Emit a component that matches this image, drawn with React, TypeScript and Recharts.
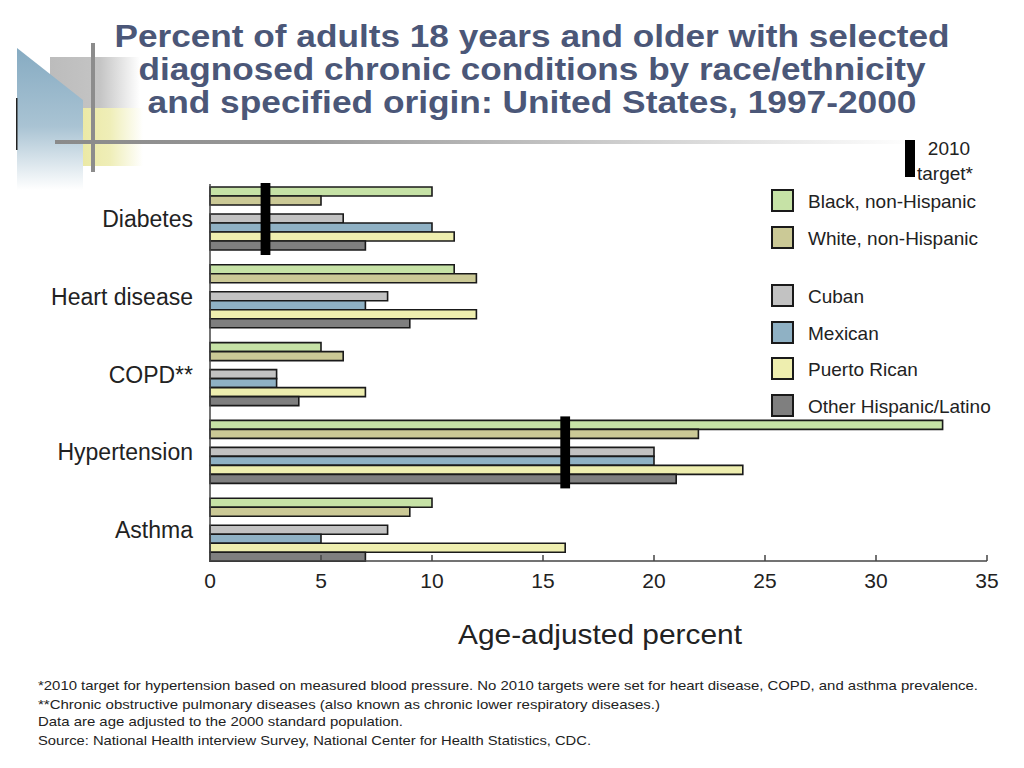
import React from 'react';
import { BarChart, Bar, XAxis, YAxis } from 'recharts';

const categories = ['Diabetes', 'Heart disease', 'COPD**', 'Hypertension', 'Asthma'];
const blackNonHispanic = [10, 11, 5, 33, 10];
const whiteNonHispanic = [5, 12, 6, 22, 9];
const cuban = [6, 8, 3, 20, 8];
const mexican = [10, 7, 3, 20, 5];
const puertoRican = [11, 12, 7, 24, 16];
const otherHispanic = [7, 9, 4, 21, 7];
const target2010 = [2.5, null, null, 16, null];
const xTicks = [0, 5, 10, 15, 20, 25, 30, 35];

const groups = [
  { key: 'black', name: 'Black, non-Hispanic', color: '#c6e2a6', values: blackNonHispanic },
  { key: 'white', name: 'White, non-Hispanic', color: '#cbc996', values: whiteNonHispanic },
  { key: 'cuban', name: 'Cuban', color: '#c2c2c2', values: cuban },
  { key: 'mexican', name: 'Mexican', color: '#8fb1c4', values: mexican },
  { key: 'pr', name: 'Puerto Rican', color: '#eeeeaf', values: puertoRican },
  { key: 'other', name: 'Other Hispanic/Latino', color: '#7f7f7f', values: otherHispanic },
];

// half width of the black target marker, in percent units
const TARGET_HALF = 0.22;

const data = categories.map((name, i) => {
  const row: any = { name };
  groups.forEach((g) => (row[g.key] = g.values[i]));
  const t = target2010[i];
  row.target = t == null ? null : [t - TARGET_HALF, t + TARGET_HALF];
  return row;
});

const FONT = '"Liberation Sans", Arial, sans-serif';
const TITLE = '#4b5778';

function Decoration() {
  return (
    <svg width={1024} height={200} style={{ position: 'absolute', left: 0, top: 0 }}>
      <defs>
        <linearGradient id="grayFade" x1="0" y1="0" x2="1" y2="0">
          <stop offset="0%" stopColor="#bcbcbc" />
          <stop offset="55%" stopColor="#c4c4c4" />
          <stop offset="100%" stopColor="#ffffff" />
        </linearGradient>
        <linearGradient id="yellowFade" x1="0" y1="0" x2="1" y2="0">
          <stop offset="0%" stopColor="#ebe9a6" />
          <stop offset="45%" stopColor="#efeeb8" />
          <stop offset="100%" stopColor="#ffffff" />
        </linearGradient>
        <linearGradient id="blueFade" x1="0" y1="0" x2="0" y2="1">
          <stop offset="0%" stopColor="#86abc2" />
          <stop offset="55%" stopColor="#a9c3d3" />
          <stop offset="100%" stopColor="#ffffff" />
        </linearGradient>
        <linearGradient id="lineFade" x1="0" y1="0" x2="1" y2="0">
          <stop offset="0%" stopColor="#8a8a8a" />
          <stop offset="30%" stopColor="#9a9a9a" />
          <stop offset="100%" stopColor="#ffffff" />
        </linearGradient>
      </defs>
      <rect x={50} y={57} width={90} height={51} fill="url(#grayFade)" />
      <rect x={83} y={108} width={60} height={58} fill="url(#yellowFade)" />
      <polygon points="17,48 83,100 83,190 17,190" fill="url(#blueFade)" />
      <rect x={55} y={140} width={860} height={4} fill="url(#lineFade)" />
      <rect x={91} y={43} width={4} height={129} fill="#8c8c8c" />
      <rect x={16} y={98} width={1.5} height={52} fill="#222" />
    </svg>
  );
}

function Title() {
  const lines = [
    { text: 'Percent of adults 18 years and older with selected', y: 47, w: 835 },
    { text: 'diagnosed chronic conditions by race/ethnicity', y: 80, w: 787 },
    { text: 'and specified origin: United States, 1997-2000', y: 113, w: 769 },
  ];
  return (
    <svg width={1024} height={130} style={{ position: 'absolute', left: 0, top: 0 }}>
      {lines.map((l) => (
        <text
          key={l.y}
          x={532}
          y={l.y}
          textAnchor="middle"
          fontFamily={FONT}
          fontWeight="bold"
          fontSize={32}
          fill={TITLE}
          textLength={l.w}
          lengthAdjust="spacingAndGlyphs"
        >
          {l.text}
        </text>
      ))}
    </svg>
  );
}

function Legend() {
  const ys = [201, 238, 296, 333, 369, 406];
  return (
    <svg width={1024} height={440} style={{ position: 'absolute', left: 0, top: 0 }}>
      <rect x={905} y={140} width={10} height={37} fill="#000" />
      <text x={949} y={155} textAnchor="middle" fontFamily={FONT} fontSize={19} fill="#222">2010</text>
      <text x={917} y={180} fontFamily={FONT} fontSize={19} fill="#222">target*</text>
      {groups.map((g, i) => (
        <g key={g.key}>
          <rect x={772} y={ys[i] - 11} width={21} height={21} fill={g.color} stroke="#1a1a1a" strokeWidth={2} />
          <text x={808} y={ys[i] + 7} fontFamily={FONT} fontSize={19} fill="#222">
            {g.name}
          </text>
        </g>
      ))}
    </svg>
  );
}

function Notes() {
  const notes = [
    { text: '*2010 target for hypertension based on measured blood pressure.  No 2010 targets were set for heart disease, COPD, and asthma prevalence.', y: 690, w: 940 },
    { text: '**Chronic obstructive pulmonary diseases (also known as chronic lower respiratory diseases.)', y: 709, w: 622 },
    { text: 'Data are age adjusted to the 2000 standard population.', y: 726, w: 365 },
    { text: 'Source: National Health interview Survey, National Center for Health Statistics, CDC.', y: 745, w: 553 },
  ];
  return (
    <svg width={1024} height={768} style={{ position: 'absolute', left: 0, top: 0 }}>
      <text x={600} y={644} textAnchor="middle" fontFamily={FONT} fontSize={28} fill="#222" textLength={284} lengthAdjust="spacingAndGlyphs">
        Age-adjusted percent
      </text>
      {notes.map((n) => (
        <text key={n.y} x={38} y={n.y} fontFamily={FONT} fontSize={13} fill="#222" textLength={n.w} lengthAdjust="spacingAndGlyphs">
          {n.text}
        </text>
      ))}
    </svg>
  );
}

export default function App() {
  return (
    <div style={{ position: 'absolute', left: 0, top: 0, width: 1024, height: 768, background: '#fff', overflow: 'hidden', fontFamily: FONT }}>
      <Decoration />
      <Title />
      <div style={{ position: 'absolute', left: 0, top: 0 }}>
        <BarChart
          width={1024}
          height={600}
          data={data}
          layout="vertical"
          margin={{ top: 184, right: 37, bottom: 0, left: 0 }}
          barGap={0}
        >
          <XAxis
            type="number"
            domain={[0, 35]}
            ticks={xTicks}
            interval={0}
            height={39}
            tickSize={-6}
            tickMargin={18}
            axisLine={{ stroke: '#444', strokeWidth: 1.5 }}
            tickLine={{ stroke: '#444', strokeWidth: 1.5 }}
            tick={{ fill: '#222', fontSize: 21, fontFamily: FONT }}
          />
          <YAxis
            type="category"
            dataKey="name"
            width={210}
            padding={{ top: -4, bottom: -8 }}
            tickSize={0}
            tickMargin={17}
            tickLine={false}
            axisLine={{ stroke: '#444', strokeWidth: 1.5 }}
            tick={{ fill: '#222', fontSize: 23, fontFamily: FONT }}
          />
          <YAxis yAxisId="t" type="category" dataKey="name" hide padding={{ top: -4, bottom: -8 }} />
          {groups.slice(0, 2).map((g) => (
            <Bar key={g.key} dataKey={g.key} name={g.name} fill={g.color} stroke="#1a1a1a" strokeWidth={1.6} barSize={9} isAnimationActive={false} />
          ))}
          <Bar dataKey="gap" fill="none" barSize={9} legendType="none" isAnimationActive={false} />
          {groups.slice(2).map((g) => (
            <Bar key={g.key} dataKey={g.key} name={g.name} fill={g.color} stroke="#1a1a1a" strokeWidth={1.6} barSize={9} isAnimationActive={false} />
          ))}
          <Bar yAxisId="t" dataKey="target" fill="#000" barSize={72} isAnimationActive={false} />
        </BarChart>
      </div>
      <Legend />
      <Notes />
    </div>
  );
}
